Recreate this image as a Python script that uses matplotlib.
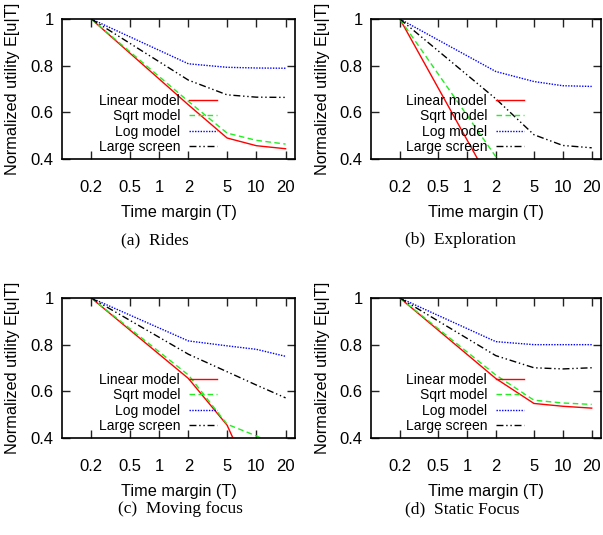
import matplotlib
matplotlib.use("Agg")
import matplotlib.pyplot as plt

plt.rcParams["font.family"] = ["Liberation Sans", "DejaVu Sans"]

# time margin values (x axis, log scale)
x_margin = [0.2, 2, 5, 10, 20]
x_ticks = [0.2, 0.5, 1, 2, 5, 10, 20]
x_ticklabels = ["0.2", "0.5", "1", "2", "5", "10", "20"]
y_ticks = [0.4, 0.6, 0.8, 1.0]
y_ticklabels = ["0.4", "0.6", "0.8", "1"]

series_names = ["Linear model", "Sqrt model", "Log model", "Large screen"]

# (a) Rides
rides_linear = [1.0, 0.632, 0.49, 0.457, 0.444]
rides_sqrt = [1.0, 0.647, 0.511, 0.48, 0.464]
rides_log = [1.0, 0.808, 0.793, 0.79, 0.789]
rides_large = [1.0, 0.738, 0.675, 0.665, 0.664]

# (b) Exploration
expl_linear = [1.0, 0.26, 0.1, 0.05, 0.02]
expl_sqrt = [1.0, 0.41, 0.25, 0.2, 0.18]
expl_log = [1.0, 0.775, 0.732, 0.714, 0.711]
expl_large = [1.0, 0.658, 0.504, 0.458, 0.448]

# (c) Moving focus
moving_linear = [1.0, 0.655, 0.455, 0.18, 0.1]
moving_sqrt = [1.0, 0.67, 0.459, 0.409, 0.35]
moving_log = [1.0, 0.816, 0.795, 0.78, 0.75]
moving_large = [1.0, 0.759, 0.684, 0.627, 0.572]

# (d) Static Focus
static_linear = [1.0, 0.655, 0.548, 0.536, 0.528]
static_sqrt = [1.0, 0.67, 0.562, 0.55, 0.544]
static_log = [1.0, 0.813, 0.80, 0.80, 0.80]
static_large = [1.0, 0.753, 0.701, 0.696, 0.701]

captions = ["(a)  Rides", "(b)  Exploration", "(c)  Moving focus", "(d)  Static Focus"]

panels = [
    [rides_linear, rides_sqrt, rides_log, rides_large],
    [expl_linear, expl_sqrt, expl_log, expl_large],
    [moving_linear, moving_sqrt, moving_log, moving_large],
    [static_linear, static_sqrt, static_log, static_large],
]

styles = [
    dict(color="#ff0000", linestyle="-"),
    dict(color="#22ee22", linestyle=(0, (4, 2.5))),
    dict(color="#0000ff", linestyle=(0, (1, 1))),
    dict(color="#000000", linestyle=(0, (5, 2, 1, 2, 1, 2))),
]

W, H = 603, 535
fig = plt.figure(figsize=(W / 100, H / 100), dpi=100)

# axes boxes in pixels: left, top, right, bottom
boxes = [
    (62, 19, 295, 159),
    (371, 19, 601, 159),
    (62, 298, 295, 438),
    (371, 298, 601, 438),
]
caption_pos = [(121, 240), (405, 240), (118, 509), (405, 509)]

for i, (data, box) in enumerate(zip(panels, boxes)):
    l, t, r, b = box
    ax = fig.add_axes([l / W, 1 - b / H, (r - l) / W, (b - t) / H])
    for vals, name, st in zip(data, series_names, styles):
        ax.plot(x_margin, vals, linewidth=1.0, label=name, **st)

    ax.set_xscale("log")
    ax.set_xlim(0.1, 25)
    ax.set_ylim(0.4, 1.0)
    ax.set_xticks(x_ticks)
    ax.set_xticklabels(x_ticklabels)
    ax.minorticks_off()
    ax.set_yticks(y_ticks)
    ax.set_yticklabels(y_ticklabels)
    # gnuplot-like inward ticks on all four sides
    ax.tick_params(axis="both", direction="in", length=6, width=1.0,
                   color="#222222", top=True, right=True, labelsize=12)
    ax.tick_params(axis="x", pad=15)
    ax.tick_params(axis="y", pad=6)
    for sp in ax.spines.values():
        sp.set_color("black")
        sp.set_linewidth(1.2)
        sp.set_zorder(5)

    ax.set_xlabel("Time margin (T)", fontsize=11.7)
    ax.set_ylabel("Normalized utility E[u|T]", fontsize=11.7)
    ax.xaxis.set_label_coords(0.5, -0.33)
    ax.yaxis.set_label_coords(-0.18, 0.5)

    ax.legend(loc="lower right", bbox_to_anchor=(0.665, 0.035), frameon=False,
              markerfirst=False, fontsize=10, handlelength=2.0,
              handletextpad=0.65, labelspacing=0.1, borderpad=0, borderaxespad=0)

    cx, cy = caption_pos[i]
    fig.text(cx / W, 1 - cy / H, captions[i], ha="left", va="center",
             fontsize=12.5, family="Liberation Serif")

fig.savefig("out.png", dpi=100)
